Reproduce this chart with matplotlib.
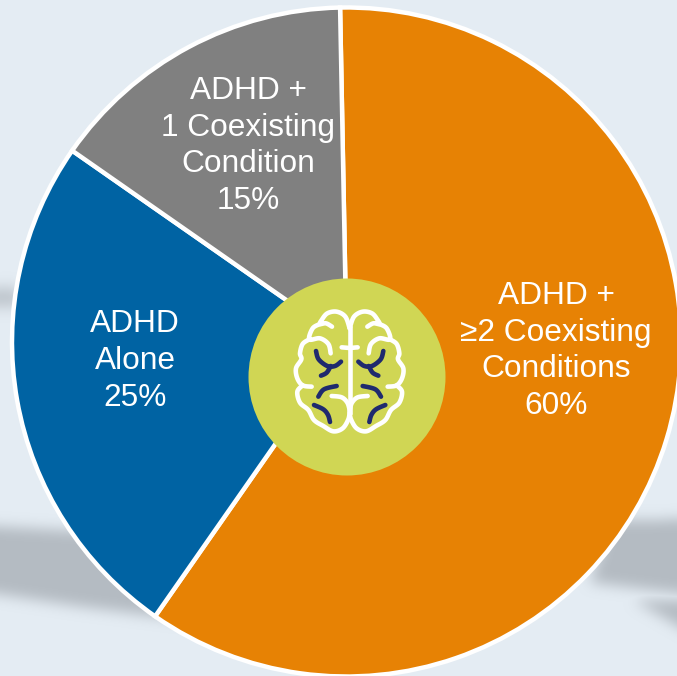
"""ADHD coexisting conditions pie with a brain hub."""

import matplotlib
matplotlib.use("Agg")
import matplotlib.pyplot as plt
from matplotlib.path import Path
from matplotlib.patches import Circle
import numpy as np

WIDTH, HEIGHT = 677, 676

labels = ["ADHD +\n≥2 Coexisting\nConditions", "ADHD\nAlone", "ADHD +\n1 Coexisting\nCondition"]
values = [60, 25, 15]
colors = ["#E78204", "#0063A3", "#808080"]
label_xy = [(556, 351), (135, 361), (248, 146)]

BACKGROUND = "#E4ECF3"
SHADOW = "#B4BBC2"
HUB = "#D0D654"
NAVY = "#1F2A6E"

# background smudges, pixel coordinates: polygon, blur radius
smudges = [
    ([(-40, 524), (90, 531), (190, 620), (80, 606), (-40, 588)], 6),
    ([(-30, 292), (14, 288), (30, 305), (-30, 304)], 7),
    ([(610, 520), (720, 518), (720, 598), (590, 582)], 6),
    ([(632, 599), (720, 600), (720, 650)], 6),
]

# brain icon, left half, in 3x crop coordinates (mirrored about BRAIN_AXIS)
BRAIN_AXIS = 329
white_strokes = [
    [(329, 175), (316, 140), (290, 125), (262, 130), (245, 150), (240, 162), (258, 160), (276, 170)],
    [(240, 162), (218, 175), (208, 208), (240, 205), (265, 222), (272, 250)],
    [(208, 208), (188, 222), (180, 250), (184, 268), (168, 295), (172, 325), (188, 346), (215, 350)],
    [(188, 346), (172, 365), (180, 398), (205, 420), (222, 450), (250, 468), (280, 484), (308, 475), (325, 448), (329, 425)],
    [(275, 378), (305, 382), (322, 398), (329, 420)],
    [(305, 232), (329, 234)],
]
navy_strokes = [
    [(228, 243), (236, 268), (262, 288), (285, 288), (303, 275)],
    [(272, 288), (260, 308), (243, 317)],
    [(235, 380), (252, 358), (290, 348)],
    [(222, 405), (250, 418), (264, 435), (270, 456)],
]


def px(x, y):
    return x, HEIGHT - y


def crop_to_px(x, y):
    return 240 + x / 3, 270 + y / 3


def smooth(points, steps=12):
    # Catmull-Rom through the points
    pts = np.array(points, dtype=float)
    pts = np.vstack([pts[0], pts, pts[-1]])
    out = []
    for i in range(1, len(pts) - 2):
        p0, p1, p2, p3 = pts[i - 1], pts[i], pts[i + 1], pts[i + 2]
        for t in np.linspace(0, 1, steps):
            out.append(0.5 * (2 * p1 + (p2 - p0) * t + (2 * p0 - 5 * p1 + 4 * p2 - p3) * t**2
                              + (3 * p1 - p0 - 3 * p2 + p3) * t**3))
    return np.array(out)


def blur(mask, radius):
    # three box passes along each axis
    kernel = np.ones(2 * radius + 1) / (2 * radius + 1)
    for _ in range(3):
        mask = np.apply_along_axis(lambda r: np.convolve(r, kernel, mode="same"), 0, mask)
        mask = np.apply_along_axis(lambda r: np.convolve(r, kernel, mode="same"), 1, mask)
    return mask


def draw_smudges(ax):
    pad = 60
    xx, yy = np.meshgrid(np.arange(-pad, WIDTH + pad), np.arange(-pad, HEIGHT + pad))
    grid = np.column_stack([xx.ravel(), yy.ravel()])
    alpha = np.zeros(xx.shape)
    for polygon, radius in smudges:
        mask = Path(polygon).contains_points(grid).reshape(xx.shape).astype(float)
        alpha = np.maximum(alpha, blur(mask, radius))
    rgba = np.zeros(alpha.shape + (4,))
    rgba[..., :3] = matplotlib.colors.to_rgb(SHADOW)
    rgba[..., 3] = alpha
    ax.imshow(rgba, extent=(-pad, WIDTH + pad, -pad, HEIGHT + pad), origin="upper", zorder=0)


def draw_brain(ax):
    for strokes, color in ((white_strokes, "white"), (navy_strokes, NAVY)):
        for stroke in strokes:
            curve = smooth(stroke)
            for mirror in (False, True):
                cx = 2 * BRAIN_AXIS - curve[:, 0] if mirror else curve[:, 0]
                x, y = crop_to_px(cx, curve[:, 1])
                ax.plot(*px(x, y), color=color, lw=3.3, solid_capstyle="round",
                        solid_joinstyle="round", zorder=6)
    x, y = crop_to_px(np.array([BRAIN_AXIS, BRAIN_AXIS]), np.array([175, 425]))
    ax.plot(*px(x, y), color="white", lw=3.3, zorder=6)


def main():
    plt.rcParams["font.family"] = ["Liberation Sans", "DejaVu Sans"]
    fig = plt.figure(figsize=(WIDTH / 100, HEIGHT / 100), dpi=100, facecolor=BACKGROUND)
    ax = fig.add_axes([0, 0, 1, 1])

    draw_smudges(ax)
    ax.pie(
        values,
        colors=colors,
        startangle=91.1,
        counterclock=False,
        center=px(346.5, 342),
        radius=334.5,
        wedgeprops={"edgecolor": "white", "linewidth": 3.2, "zorder": 2},
    )
    ax.add_patch(Circle(px(347, 377), 98.5, facecolor=HUB, edgecolor="none", zorder=4))
    draw_brain(ax)

    for label, value, (x, y) in zip(labels, values, label_xy):
        ax.text(*px(x, y), f"{label}\n{value}%", color="white",
                fontsize=22.8, ha="center", va="center", linespacing=1.3, zorder=7)

    ax.set_xlim(0, WIDTH)
    ax.set_ylim(0, HEIGHT)
    ax.set_aspect("equal")
    ax.axis("off")
    fig.savefig("out.png", dpi=100, facecolor=BACKGROUND)


if __name__ == "__main__":
    main()
